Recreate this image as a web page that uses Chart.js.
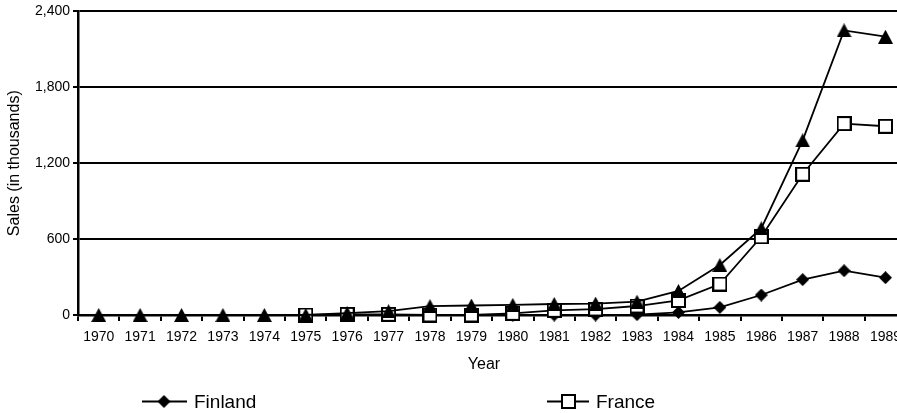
<!DOCTYPE html>
<html>
<head>
<meta charset="utf-8">
<script src="https://cdn.jsdelivr.net/npm/chart.js@4.4.1/dist/chart.umd.min.js"></script>
<style>
  html, body { margin: 0; padding: 0; background: #fff; overflow: hidden; }
  #wrap { width: 897px; height: 413px; overflow: hidden; position: relative; }
  canvas { display: block; }
</style>
</head>
<body>
<div id="wrap"><canvas id="c" width="916" height="413" style="width:916px;height:413px"></canvas></div>
<script>
const years = ['1970','1971','1972','1973','1974','1975','1976','1977','1978','1979',
               '1980','1981','1982','1983','1984','1985','1986','1987','1988','1989'];
const finland = [null,null,null,null,null,0,0,0,0,0,0,0,0,3,20,60,158,280,350,295];
const france  = [null,null,null,null,null,0,5,5,0,0,13,37,47,71,115,245,618,1113,1513,1492];
const other   = [0,0,0,0,0,0,15,30,70,75,80,87,90,105,190,395,685,1380,2250,2200];
const yTicks  = [0,600,1200,1800,2400];

const FONT = '"Liberation Sans", Arial, Helvetica, sans-serif';

function makeMarker(w, h, draw) {
  const c = document.createElement('canvas');
  c.width = w; c.height = h;
  draw(c.getContext('2d'), w, h);
  return c;
}
const triMarker = makeMarker(15, 14, (g, w, h) => {
  g.fillStyle = '#000';
  g.beginPath(); g.moveTo(w / 2, 0); g.lineTo(w, h); g.lineTo(0, h); g.closePath(); g.fill();
});
const sqMarker = makeMarker(15, 15, (g, w, h) => {
  g.fillStyle = '#fff'; g.fillRect(0, 0, w, h);
  g.strokeStyle = '#000'; g.lineWidth = 2; g.strokeRect(1, 1, w - 2, h - 2);
});
const diaMarker = makeMarker(13, 13, (g, w, h) => {
  g.fillStyle = '#000';
  g.beginPath(); g.moveTo(w / 2, 0); g.lineTo(w, h / 2); g.lineTo(w / 2, h); g.lineTo(0, h / 2); g.closePath(); g.fill();
});

const legendPlugin = {
  id: 'customLegend',
  afterDraw(chart) {
    const ctx = chart.ctx;
    const y = 401.5;
    ctx.save();
    // x-axis title, centred on the visible part of the plot
    ctx.fillStyle = '#000';
    ctx.font = '16px ' + FONT;
    ctx.textAlign = 'center';
    ctx.textBaseline = 'middle';
    ctx.fillText('Year', 484, 365);
    // legend
    ctx.strokeStyle = '#000';
    ctx.lineWidth = 1.8;
    ctx.beginPath(); ctx.moveTo(142, y); ctx.lineTo(187, y); ctx.stroke();
    ctx.drawImage(diaMarker, 164 - 6.5, y - 6.5);
    ctx.beginPath(); ctx.moveTo(547, y); ctx.lineTo(589, y); ctx.stroke();
    ctx.drawImage(sqMarker, 561, y - 7.5);
    ctx.font = '19px ' + FONT;
    ctx.textAlign = 'left';
    ctx.fillText('Finland', 194, y + 1);
    ctx.fillText('France', 596, y + 1);
    ctx.restore();
  }
};

new Chart(document.getElementById('c'), {
  type: 'line',
  data: {
    labels: years,
    datasets: [
      {
        label: 'Other', data: other, order: 1, clip: false,
        borderColor: '#000', borderWidth: 1.8, backgroundColor: '#000',
        pointStyle: triMarker, pointRadius: 8, tension: 0
      },
      {
        label: 'France', data: france, order: 2, clip: false,
        borderColor: '#000', borderWidth: 1.8, backgroundColor: '#fff',
        pointStyle: sqMarker, pointRadius: 8, tension: 0, spanGaps: false
      },
      {
        label: 'Finland', data: finland, order: 3, clip: false,
        borderColor: '#000', borderWidth: 1.8, backgroundColor: '#000',
        pointStyle: diaMarker, pointRadius: 7, tension: 0
      }
    ]
  },
  options: {
    responsive: false,
    animation: false,
    devicePixelRatio: 1,
    layout: { padding: { left: 0, right: 0, top: 11, bottom: 38 } },
    plugins: {
      legend: { display: false },
      tooltip: { enabled: false }
    },
    scales: {
      x: {
        type: 'category',
        offset: true,
        afterFit: s => { s.height = 60; },
        grid: {
          offset: true, drawOnChartArea: false, drawTicks: true,
          tickLength: 6, color: '#000', lineWidth: 2
        },
        border: { display: true, color: '#000', width: 2.5 },
        ticks: { color: '#000', font: { family: FONT, size: 14 }, padding: 8, maxRotation: 0, autoSkip: false },
        title: { display: false }
      },
      y: {
        min: 0, max: 2400,
        afterFit: s => { s.width = 78; },
        afterBuildTicks: s => { s.ticks = yTicks.map(v => ({ value: v })); },
        grid: { color: '#000', lineWidth: 2, tickLength: 5, drawTicks: true },
        border: { display: true, color: '#000', width: 2.5 },
        ticks: {
          color: '#000', font: { family: FONT, size: 14 }, padding: 3,
          callback: v => v.toLocaleString('en-US')
        },
        title: { display: true, text: 'Sales (in thousands)', color: '#000', font: { family: FONT, size: 16 }, padding: { top: 5, bottom: 0 } }
      }
    }
  },
  plugins: [legendPlugin]
});
</script>
</body>
</html>
